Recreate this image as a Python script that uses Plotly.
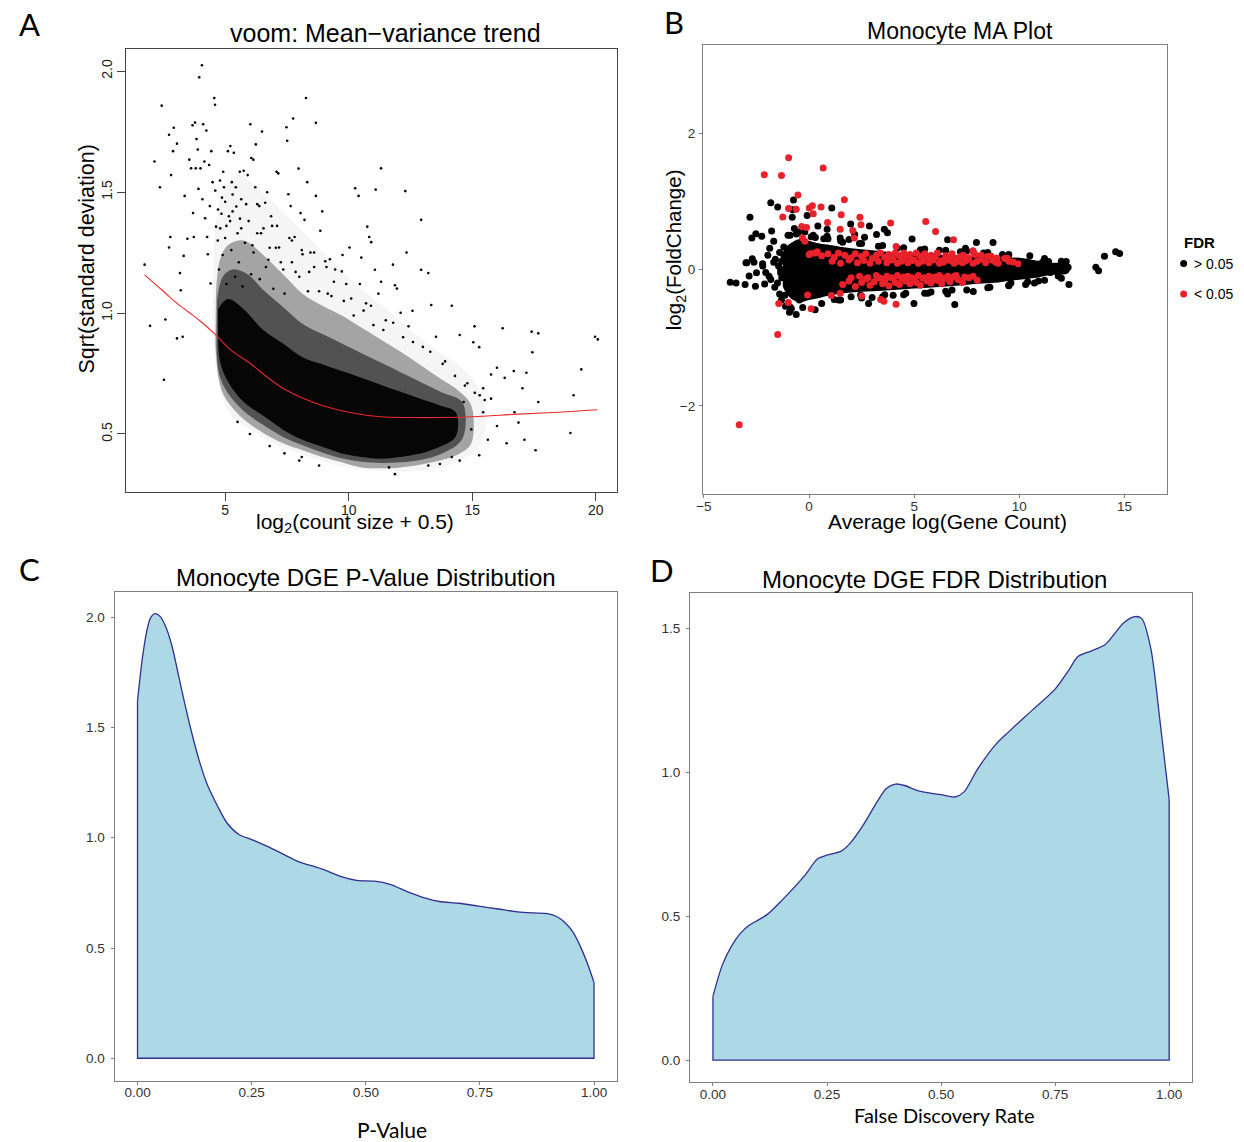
import plotly.graph_objects as go

W, H = 1244, 1142
FONT = "Liberation Sans, Arial, Helvetica, sans-serif"
MYR = "Lato, Open Sans, sans-serif"

# ---------------- Panel A : voom mean-variance trend ----------------
a_trend_x = [1.74, 2.5, 3.0, 3.5, 4.0, 4.63, 5.2, 6.06, 6.7, 7.34, 8.1, 8.93, 10.0, 11.3, 12.5, 13.7, 15.0, 16.87, 18.5, 20.05]
a_trend_y = [1.158, 1.09, 1.044, 1.005, 0.966, 0.909, 0.85, 0.788, 0.735, 0.689, 0.65, 0.618, 0.59, 0.571, 0.568, 0.568, 0.571, 0.582, 0.59, 0.60]

# saturated (near-solid) part of the point cloud
a_core_x = [4.71, 5.11, 5.75, 6.54, 7.34, 8.13, 8.93, 9.72, 10.51, 11.31, 12.1, 12.9, 13.69, 14.33,
            14.33, 13.69, 12.9, 12.1, 11.31, 10.51, 9.72, 8.93, 8.13, 7.34, 6.54, 5.75, 5.11, 4.79, 4.71]
a_core_y = [1.016, 1.058, 1.016, 0.93, 0.874, 0.817, 0.788, 0.76, 0.732, 0.703, 0.675, 0.646, 0.618, 0.59,
            0.49, 0.447, 0.419, 0.405, 0.398, 0.405, 0.419, 0.447, 0.476, 0.518, 0.575, 0.632, 0.717, 0.80, 0.90]
# dense part just outside the core
a_inner_x = [4.67, 4.9, 5.3, 5.9, 6.6, 7.4, 8.2, 9.0, 9.8, 10.6, 11.4, 12.2, 13.0, 13.8, 14.6,
             14.6, 13.8, 13.0, 12.1, 11.3, 10.5, 9.7, 8.9, 8.1, 7.3, 6.5, 5.75, 5.1, 4.75, 4.65]
a_inner_y = [1.05, 1.15, 1.18, 1.16, 1.09, 1.02, 0.95, 0.91, 0.87, 0.83, 0.79, 0.75, 0.71, 0.67, 0.63,
             0.48, 0.42, 0.395, 0.383, 0.38, 0.385, 0.40, 0.425, 0.455, 0.49, 0.54, 0.595, 0.67, 0.75, 0.88]
# medium-density part of the cloud
a_mid_x = [4.63, 4.79, 5.11, 5.75, 6.54, 7.34, 8.13, 8.93, 9.72, 10.51, 11.31, 12.1, 12.9, 13.69, 14.49, 14.96,
           14.96, 14.49, 13.69, 12.1, 10.51, 9.72, 8.93, 8.13, 7.34, 6.54, 5.75, 5.11, 4.79, 4.60]
a_mid_y = [1.087, 1.22, 1.28, 1.30, 1.24, 1.16, 1.08, 1.03, 0.99, 0.94, 0.89, 0.84, 0.785, 0.73, 0.675, 0.618,
           0.462, 0.419, 0.39, 0.362, 0.362, 0.383, 0.405, 0.433, 0.462, 0.504, 0.561, 0.632, 0.703, 0.874]
# sparse halo of the cloud
a_halo_x = [4.5, 4.6, 4.9, 5.5, 6.5, 7.5, 8.5, 9.5, 10.5, 11.5, 12.5, 13.5, 14.5, 15.2, 15.5,
            15.5, 15.0, 14.0, 12.5, 11.0, 10.0, 9.0, 8.0, 7.0, 6.0, 5.3, 4.9, 4.6]
a_halo_y = [1.0, 1.35, 1.5, 1.57, 1.5, 1.4, 1.3, 1.2, 1.1, 1.02, 0.93, 0.85, 0.78, 0.7, 0.6,
            0.5, 0.42, 0.37, 0.345, 0.35, 0.36, 0.385, 0.42, 0.46, 0.52, 0.57, 0.65, 0.78]
# individual sparse genes
a_pts_x = [1.74, 1.96, 2.14, 2.43, 2.36, 2.52, 2.58, 2.73, 2.73, 2.78, 2.81, 2.89, 2.92, 3.05, 3.05, 3.17,
           3.20, 3.28, 3.32, 3.36, 3.47, 3.55, 3.62, 3.68, 3.70, 3.73, 3.78, 3.81, 3.84, 3.89, 3.92, 3.95,
           4.00, 4.06, 4.08, 4.11, 4.16, 4.19, 4.24, 4.27, 4.30, 4.35, 4.38, 4.41, 4.44, 4.49, 4.56, 4.59,
           4.60, 4.63, 4.71, 4.79, 4.87, 4.92, 5.11, 5.21, 5.27, 5.35, 5.43, 5.59, 5.75, 5.91, 6.02, 6.06,
           6.14, 6.22, 6.24, 6.38, 6.49, 6.62, 6.70, 6.86, 7.08, 7.15, 7.18, 7.48, 7.51, 7.56, 7.65, 7.75,
           7.81, 7.97, 8.05, 8.13, 8.21, 8.27, 8.32, 8.45, 8.67, 8.67, 8.93, 9.05, 9.24, 9.40, 9.72, 10.03,
           10.26, 10.40, 10.51, 10.75, 10.83, 10.91, 11.06, 11.09, 11.31, 11.31, 11.79, 11.87, 11.95, 12.10,
           12.29, 12.34, 12.42, 12.58, 12.93, 12.93, 13.22, 13.34, 13.53, 14.17, 14.49, 15.04, 15.09, 15.28,
           15.44, 15.76, 16.00, 16.23, 16.31, 16.39, 16.68, 16.87, 17.03, 17.11, 17.19, 17.40, 17.43, 17.56,
           17.67, 17.67, 18.97, 19.10, 19.41, 19.97, 20.08, 14.49, 14.17, 15.28, 13.22, 11.87, 11.63, 8.10,
           13.69, 15.63, 16.00, 16.71, 15.44, 14.96, 14.65, 15.76, 5.05, 5.3, 5.6, 6.3, 6.9, 7.7, 8.6,
           9.1, 9.9, 10.7, 11.5, 12.2, 13.0, 13.9, 14.8, 15.3, 5.5, 6.0, 6.8, 7.4, 8.0, 8.8,
           4.7, 4.85, 5.0, 5.2, 5.45, 5.65, 5.85, 6.1, 6.45, 6.75, 7.05, 7.35, 7.7, 8.0, 8.4, 8.8, 9.3, 9.8,
           10.2, 10.6, 11.0, 11.4, 11.8, 12.6, 13.3, 13.8, 14.3, 14.7, 15.1, 15.5,
           4.75, 4.8, 4.9, 4.95, 5.0, 5.05, 5.15, 5.25, 5.3, 5.4, 5.5, 5.55, 5.65, 5.7, 5.8, 5.95, 6.05, 6.15,
           6.3, 6.4, 6.55, 6.65, 6.8, 6.95, 7.1, 7.25, 7.4, 7.6, 7.85, 8.1, 8.35, 8.6, 8.85, 9.15, 9.45, 9.75,
           10.1, 10.45, 10.9, 11.2]
a_pts_y = [1.20, 0.947, 1.626, 1.857, 1.52, 0.724, 0.973, 1.737, 1.271, 1.314, 1.57, 1.669, 1.766, 1.70, 0.895, 1.165,
           1.094, 0.902, 1.236, 1.484, 1.307, 1.634, 1.598, 1.776, 1.413, 1.314, 1.787, 1.598, 1.719, 1.676, 1.513, 1.974,
           1.598, 2.024, 1.47, 1.78, 1.626, 1.392, 1.754, 1.314, 1.243, 1.612, 1.442, 1.122, 1.669, 1.541, 1.889, 1.861,
           1.506, 1.357, 1.428, 1.548, 1.477, 1.584, 1.669, 1.69, 1.541, 1.662, 1.52, 1.584, 1.588, 1.57, 1.78, 1.641,
           1.634, 1.52, 1.697, 1.442, 1.75, 1.456, 1.499, 1.40, 1.584, 1.577, 1.271, 1.768, 1.712, 1.491, 1.442, 1.804,
           1.314, 1.597, 1.413, 1.243, 1.385, 1.889, 1.541, 1.25, 1.786, 1.484, 1.42, 1.214, 1.222, 1.129, 1.172, 1.271,
           1.516, 1.484, 1.229, 1.357, 1.314, 1.293, 1.179, 1.51, 1.598, 1.129, 1.20, 1.115, 1.101, 1.001,
           1.504, 1.25, 0.945, 1.009, 1.385, 1.179, 1.165, 1.033, 0.902, 1.03, 0.909, 0.879, 0.945, 0.859,
           0.689, 0.746, 0.774, 0.937, 0.732, 0.462, 0.76, 0.547, 0.689, 0.476, 0.753, 0.923, 0.838, 0.433,
           0.916, 0.632, 0.504, 0.66, 0.767, 0.902, 0.891, 0.39, 0.405, 0.412, 0.37, 0.334, 0.362, 0.405,
           0.376, 0.476, 0.533, 0.59, 0.59, 0.519, 0.632, 0.646, 1.36, 1.42, 1.39, 1.33, 1.36, 1.30, 1.25,
           1.19, 1.12, 1.04, 0.97, 0.90, 0.86, 0.80, 0.71, 0.66, 0.55, 0.50, 0.45, 0.42, 0.39, 0.37,
           1.30, 1.41, 1.46, 1.38, 1.44, 1.35, 1.45, 1.28, 1.33, 1.22, 1.27, 1.18, 1.21, 1.15, 1.17, 1.09, 1.07, 1.05,
           0.99, 1.01, 0.95, 0.93, 0.96, 0.88, 0.84, 0.79, 0.74, 0.70, 0.67, 0.64,
           1.18, 1.35, 1.24, 1.52, 1.31, 1.12, 1.40, 1.26, 1.49, 1.15, 1.33, 1.21, 1.47, 1.11, 1.29, 1.38, 1.16, 1.25,
           1.45, 1.14, 1.35, 1.19, 1.27, 1.10, 1.36, 1.21, 1.08, 1.31, 1.17, 1.26, 1.09, 1.19, 1.34, 1.08, 1.18, 1.24,
           1.06, 1.12, 1.03, 1.08]

# ---------------- Panel B : MA plot ----------------
b_mass_x = [-1.25, -1.1, -0.8, -0.4, 0.0, 0.5, 1.0, 2.0, 3.0, 4.0, 5.0, 6.0, 7.0, 8.0, 9.0, 10.0, 10.8, 11.5, 12.3, 12.4,
            12.3, 11.5, 10.8, 10.0, 9.0, 8.0, 7.0, 6.0, 5.0, 4.0, 3.0, 2.0, 1.0, 0.5, 0.0, -0.4, -0.8, -1.1, -1.25]
b_mass_y = [0.25, 0.33, 0.40, 0.45, 0.42, 0.38, 0.36, 0.31, 0.28, 0.25, 0.23, 0.22, 0.21, 0.19, 0.18, 0.17, 0.13, 0.10, 0.08, 0.0,
            -0.06, -0.08, -0.12, -0.15, -0.19, -0.21, -0.24, -0.26, -0.28, -0.30, -0.32, -0.34, -0.38, -0.42, -0.45, -0.48, -0.44, -0.34, -0.25]

b_black_x = [-3.75, -3.47, -2.81, -2.72, -2.53, -2.25, -2.96, -2.70, -2.62, -2.85, -3.04, -2.55, -2.21, -2.06, -1.78,
             -1.82, -1.49, -1.68, -1.87, -1.96, -1.68, -2.11, -1.82, -1.63, -1.40, -1.31, -1.12, -0.93, -0.61, -0.84,
             -0.46, 0.29, -0.74, -0.80, -0.78, -0.09, 0.42, 1.08, 0.86, 0.86, 1.48, 1.98, 2.17, 2.64, 2.87, 3.21,
             3.58, 3.73, 4.90, 6.59, 7.44, 7.96, 8.75, 2.83, 4.99, 6.93, 1.42, 2.45, 5.65, 6.59, 7.81, 9.98, 10.35,
             10.82, 10.91, 11.10, 11.39, 11.48, 11.72, 11.85, 12.23, 12.32, 12.36, 10.72, 10.35, 13.64, 13.77, 14.05,
             14.58, 14.77, -3.0, -2.5, -2.2, -1.9, -1.6, -1.5, -1.4, -1.35, -1.2, -1.15, -1.0, -0.6, -0.2, 0.3,
             0.9, 1.6, 2.4, 3.3, 4.2, 5.3, 6.2, 7.2, 8.3, 9.2, 9.6, 1.2, 2.0, 3.6, 4.6, 5.8, 6.8, 8.6, 9.5, 10.4,
             -0.9, -0.5, 0.2, 0.7, 1.5, 2.5, 3.5, 4.5, 5.5, 6.5, 7.5, 8.5, 9.5, 10.5, 11.2, 12.0,
             -0.9, -0.3, 0.6, 1.5, 2.5, 3.5, 4.5, 5.5, 6.5, 7.5, 8.5, 9.5, 10.3, 11.2, 12.0,
             -1.3, -1.35, -1.3, -1.45, -1.2, -0.7, 0.1, 1.9, 3.0, 4.0]
b_black_y = [-0.187, -0.197, 0.766, 0.462, 0.522, 0.487, 0.097, 0.158, 0.107, -0.095, -0.222, -0.247, 0.082, -0.044, 0.563,
             0.978, 0.918, 0.412, 0.31, 0.209, 0.107, -0.212, -0.146, -0.262, -0.359, -0.45, -0.541, -0.627, -0.662, -0.577,
             -0.45, -0.591, 1.019, 0.766, 0.876, 0.791, 0.638, 0.903, 0.588, 0.487, 0.462, 0.665, 0.512, 0.472, 0.638, 0.512,
             0.588, 0.538, 0.447, 0.437, 0.31, 0.396, 0.396, -0.50, -0.50, -0.516, -0.45, -0.374, -0.349, -0.359, -0.323, 0.056, 0.107,
             0.056, -0.171, 0.107, 0.117, -0.044, 0.031, -0.095, 0.117, 0.031, -0.222, -0.197, -0.095, 0.031, -0.019, 0.193,
             0.259, 0.234, 0.1, -0.05, 0.05, -0.1, 0.15, -0.2, 0.25, -0.05, 0.33, -0.38, 0.5, 0.52, 0.55, 0.47,
             0.45, 0.40, 0.38, 0.34, 0.31, 0.29, 0.28, 0.26, 0.24, 0.22, -0.20, -0.44, -0.40, -0.37, -0.35, -0.33, -0.30, -0.26, -0.23, -0.18,
             0.50, 0.55, 0.50, 0.45, 0.42, 0.38, 0.35, 0.32, 0.30, 0.28, 0.27, 0.25, 0.22, 0.20, 0.16, 0.12,
             -0.55, -0.56, -0.50, -0.45, -0.42, -0.40, -0.37, -0.35, -0.32, -0.30, -0.27, -0.24, -0.22, -0.16, -0.13,
             0.12, 0.0, -0.12, 0.05, 0.2, 0.6, 0.48, 0.44, -0.41, -0.38]

b_red_x = [-0.97, -2.13, -1.31, 0.67, -0.53, 1.68, -0.97, -0.61, 0.01, 0.16, 0.57, -1.25, 0.20, 0.88, 1.53, 2.42, 2.47,
           3.88, 5.55, 6.02, -0.35, -0.12, 1.48, 2.08, 2.15, -0.31, -0.20, 6.87, 7.80, 4.14, 0.09, 0.39, -1.44, -0.99,
           0.10, -0.07, -1.49, -3.32, 1.48, 2.51, 1.06, 3.41, 3.56, 4.14, 9.94, 6.87, 7.34, 7.81, 8.19, 8.66, 8.94, 8.88, 9.41,
           0.0, 0.3, 0.6, 0.9, 1.2, 1.4, 1.7, 2.0, 2.2, 2.5, 2.7, 3.0, 3.2, 3.4, 3.6, 3.8, 4.0, 4.1, 4.3, 4.5, 4.6, 4.8,
           5.0, 5.1, 5.3, 5.5, 5.6, 5.8, 6.0, 6.1, 6.3, 6.5, 6.6, 6.8, 7.0, 7.2, 7.4, 7.6, 7.9, 8.2, 8.5, 8.9, 9.3, 9.7,
           1.6, 1.9, 2.2, 2.5, 2.7, 2.9, 3.1, 3.3, 3.5, 3.6, 3.8, 4.0, 4.1, 4.3, 4.5, 4.6, 4.8, 5.0, 5.1, 5.3, 5.5, 5.6,
           5.8, 6.0, 6.1, 6.3, 6.5, 6.7, 6.9, 7.1, 7.3, 7.6, 8.0,
           1.1, 1.5, 1.9, 2.3, 2.6, 2.9, 3.3, 3.7, 3.9, 4.2, 4.4, 4.7, 4.9, 5.2, 5.4, 5.7, 5.9, 6.2, 6.4, 6.7, 6.9, 7.1,
           7.3, 7.5, 7.8, 8.0, 8.4, 8.7, 9.0, 9.5,
           2.0, 2.4, 2.8, 3.2, 3.4, 3.7, 3.9, 4.2, 4.4, 4.7, 4.9, 5.2, 5.4, 5.7, 5.9, 6.2, 6.4, 6.6, 6.8, 7.0, 7.4, 7.8]
b_red_y = [1.637, 1.388, 1.378, 1.49, 1.094, 1.024, 0.893, 0.882, 0.903, 0.933, 0.918, 0.771, 0.816, 0.69, 0.801, 0.766, 0.654,
           0.68, 0.705, 0.557, 0.629, 0.614, 0.588, 0.573, 0.462, 0.462, 0.412, 0.437, 0.274, 0.335, 0.234, 0.259, -0.50, -0.485,
           -0.577, -0.374, -0.956, -2.278, -0.349, -0.39, -0.384, -0.44, -0.465, -0.51, 0.082, 0.168, 0.209, 0.259, 0.209, 0.193, 0.168, 0.107, 0.168,
           0.22, 0.24, 0.20, 0.23, 0.18, 0.24, 0.21, 0.17, 0.23, 0.19, 0.23, 0.16, 0.21, 0.24, 0.18, 0.22, 0.15, 0.24, 0.20, 0.24, 0.17, 0.22,
           0.14, 0.24, 0.19, 0.23, 0.15, 0.21, 0.18, 0.24, 0.13, 0.20, 0.16, 0.23, 0.14, 0.19, 0.12, 0.17, 0.22, 0.15, 0.19, 0.13, 0.16, 0.11,
           -0.22, -0.17, -0.25, -0.19, -0.14, -0.23, -0.18, -0.12, -0.21, -0.16, -0.24, -0.13, -0.19, -0.22, -0.11, -0.17, -0.21, -0.14, -0.19, -0.23, -0.12, -0.17,
           -0.20, -0.11, -0.16, -0.21, -0.13, -0.18, -0.10, -0.15, -0.19, -0.12, -0.16,
           0.12, 0.09, 0.14, 0.10, 0.13, 0.09, 0.12, 0.10, 0.14, 0.09, 0.12, 0.10, 0.13, 0.09, 0.12, 0.10, 0.14, 0.09, 0.11, 0.13, 0.09, 0.12,
           0.10, 0.14, 0.09, 0.12, 0.10, 0.14, 0.09, 0.12,
           -0.12, -0.10, -0.12, -0.09, -0.13, -0.10, -0.12, -0.09, -0.13, -0.10, -0.12, -0.09, -0.13, -0.10, -0.12, -0.09, -0.13, -0.10, -0.12, -0.09, -0.11, -0.10]

# ---------------- Panel C : P-value density ----------------
c_x = [0.0, 0.011, 0.020, 0.028, 0.038, 0.050, 0.063, 0.076, 0.090, 0.103, 0.119, 0.136, 0.153, 0.175, 0.196,
       0.222, 0.25, 0.282, 0.317, 0.351, 0.403, 0.446, 0.480, 0.519, 0.553, 0.592, 0.627, 0.661, 0.704, 0.747,
       0.790, 0.833, 0.867, 0.898, 0.919, 0.936, 0.954, 0.971, 0.988, 1.0]
c_y = [1.622, 1.82, 1.934, 1.995, 2.016, 2.003, 1.951, 1.865, 1.735, 1.613, 1.474, 1.344, 1.24, 1.145, 1.067,
       1.015, 0.992, 0.963, 0.928, 0.893, 0.859, 0.824, 0.807, 0.803, 0.789, 0.755, 0.729, 0.711, 0.703, 0.69,
       0.677, 0.664, 0.659, 0.656, 0.642, 0.616, 0.572, 0.503, 0.416, 0.343]

# ---------------- Panel D : FDR density ----------------
d_x = [0.0, 0.02, 0.04, 0.06, 0.08, 0.10, 0.12, 0.15, 0.20, 0.23, 0.25, 0.28, 0.30, 0.33, 0.36, 0.38, 0.40, 0.42,
       0.45, 0.50, 0.53, 0.55, 0.58, 0.62, 0.65, 0.70, 0.75, 0.78, 0.80, 0.83, 0.86, 0.88, 0.90, 0.925, 0.94,
       0.96, 0.98, 1.0]
d_y = [0.221, 0.328, 0.394, 0.44, 0.469, 0.487, 0.507, 0.553, 0.639, 0.70, 0.712, 0.725, 0.752, 0.818, 0.898, 0.944, 0.959, 0.954,
       0.935, 0.922, 0.914, 0.931, 1.011, 1.097, 1.143, 1.216, 1.289, 1.355, 1.402, 1.422, 1.444, 1.481, 1.519, 1.541, 1.534,
       1.428, 1.176, 0.905]

fig = go.Figure()

# Panel A traces
for xs, ys, a in [(a_halo_x, a_halo_y, 0.04), (a_mid_x, a_mid_y, 0.33), (a_inner_x, a_inner_y, 0.5),
                  (a_core_x, a_core_y, 0.92)]:
    fig.add_trace(go.Scatter(x=xs, y=ys, mode="lines", fill="toself", fillcolor=f"rgba(0,0,0,{a})",
                             line=dict(width=0, color="rgba(0,0,0,0)", shape="spline"), hoverinfo="skip",
                             showlegend=False, xaxis="x", yaxis="y"))
fig.add_trace(go.Scatter(x=a_pts_x, y=a_pts_y, mode="markers", marker=dict(size=2.6, color="black"),
                         showlegend=False, xaxis="x", yaxis="y"))
fig.add_trace(go.Scatter(x=a_trend_x, y=a_trend_y, mode="lines", line=dict(color="#E8292B", width=1.1, shape="spline"),
                         showlegend=False, xaxis="x", yaxis="y"))

# Panel B traces
fig.add_trace(go.Scatter(x=b_mass_x, y=b_mass_y, mode="lines", fill="toself", fillcolor="black",
                         line=dict(width=0, color="rgba(0,0,0,0)", shape="spline"), hoverinfo="skip", showlegend=False,
                         xaxis="x2", yaxis="y2"))
fig.add_trace(go.Scatter(x=b_black_x, y=b_black_y, mode="markers", name="> 0.05",
                         marker=dict(size=7, color="black"), showlegend=False, xaxis="x2", yaxis="y2"))
fig.add_trace(go.Scatter(x=b_red_x, y=b_red_y, mode="markers", name="< 0.05",
                         marker=dict(size=7, color="#E8212A"), showlegend=False, xaxis="x2", yaxis="y2"))

# Panel C / D densities
NAVY = "#2E3190"
for xs, ys, ax, ay in [(c_x, c_y, "x3", "y3"), (d_x, d_y, "x4", "y4")]:
    fig.add_trace(go.Scatter(x=xs, y=ys, mode="lines", fill="tozeroy", fillcolor="#ADD8E6",
                             line=dict(color=NAVY, width=1.3, shape="spline", smoothing=0.8),
                             showlegend=False, xaxis=ax, yaxis=ay))
    fig.add_trace(go.Scatter(x=[xs[0], xs[0], xs[-1], xs[-1]], y=[ys[0], 0, 0, ys[-1]], mode="lines",
                             line=dict(color=NAVY, width=1.3), showlegend=False, xaxis=ax, yaxis=ay))

def dom_x(a, b):
    return [a / W, b / W]

def dom_y(top, bottom):
    return [1 - bottom / H, 1 - top / H]

base_tick = dict(showgrid=False, zeroline=False, showline=True, mirror=True, ticks="outside")
gg_line = "#7F7F7F"
gg_font = dict(family=FONT, size=13.5, color="#333333")
a_font = dict(family=FONT, size=14, color="#222")

fig.update_layout(
    width=W, height=H, margin=dict(l=0, r=0, t=0, b=0),
    paper_bgcolor="white", plot_bgcolor="white", showlegend=False,
    xaxis=dict(**base_tick, domain=dom_x(120, 613.3), anchor="y", range=[1.0, 20.85],
               tickvals=[5, 10, 15, 20], ticktext=["5", "10", "15", "20"], ticklabelstandoff=-3,
               linecolor="#444444", linewidth=1, ticklen=8, tickcolor="#444444", tickfont=a_font),
    yaxis=dict(**base_tick, domain=dom_y(49.3, 492.3), anchor="x", range=[0.259, 2.09],
               tickvals=[0.5, 1.0, 1.5, 2.0], ticktext=["0.5", "1.0", "1.5", "2.0"], tickangle=-90,
               linecolor="#444444", linewidth=1, ticklen=8, tickcolor="#444444", tickfont=a_font),
    xaxis2=dict(**base_tick, domain=dom_x(700, 1166.7), anchor="y2", range=[-5.04, 17.03],
                tickvals=[-5, 0, 5, 10, 15], linecolor=gg_line, linewidth=1.2, ticklen=3, tickcolor=gg_line,
                tickfont=gg_font, ticklabelstandoff=-3),
    yaxis2=dict(**base_tick, domain=dom_y(45.2, 493.7), anchor="x2", range=[-3.29, 3.29],
                tickvals=[-2, 0, 2], linecolor=gg_line, linewidth=1.2, ticklen=3, tickcolor=gg_line,
                tickfont=gg_font, ticklabelstandoff=1),
    xaxis3=dict(**base_tick, domain=dom_x(108.3, 613.3), anchor="y3", range=[-0.05, 1.05],
                tickvals=[0, 0.25, 0.5, 0.75, 1.0], ticktext=["0.00", "0.25", "0.50", "0.75", "1.00"],
                linecolor=gg_line, linewidth=1.2, ticklen=3, tickcolor=gg_line, tickfont=gg_font,
                ticklabelstandoff=-4),
    yaxis3=dict(**base_tick, domain=dom_y(591.5, 1080.5), anchor="x3", range=[-0.1008, 2.1168],
                tickvals=[0, 0.5, 1.0, 1.5, 2.0], ticktext=["0.0", "0.5", "1.0", "1.5", "2.0"],
                linecolor=gg_line, linewidth=1.2, ticklen=3, tickcolor=gg_line, tickfont=gg_font,
                ticklabelstandoff=3),
    xaxis4=dict(**base_tick, domain=dom_x(687, 1191.7), anchor="y4", range=[-0.05, 1.05],
                tickvals=[0, 0.25, 0.5, 0.75, 1.0], ticktext=["0.00", "0.25", "0.50", "0.75", "1.00"],
                linecolor=gg_line, linewidth=1.2, ticklen=3, tickcolor=gg_line, tickfont=gg_font,
                ticklabelstandoff=-4),
    yaxis4=dict(**base_tick, domain=dom_y(592.7, 1082.3), anchor="x4", range=[-0.0774, 1.624],
                tickvals=[0, 0.5, 1.0, 1.5], ticktext=["0.0", "0.5", "1.0", "1.5"],
                linecolor=gg_line, linewidth=1.2, ticklen=3, tickcolor=gg_line, tickfont=gg_font,
                ticklabelstandoff=3),
)

def ann(text, px, py, size, family=FONT, angle=0, color="#000", xanchor="center"):
    fig.add_annotation(text=text, x=px / W, y=1 - py / H, xref="paper", yref="paper",
                       showarrow=False, textangle=angle, xanchor=xanchor, yanchor="middle",
                       font=dict(family=family, size=size, color=color))

# panel letters
ann("A", 23, 24, 31, family=MYR)
ann("B", 671, 22, 31, family=MYR)
ann("C", 23, 569, 31, family=MYR)
ann("D", 659, 570, 31, family=MYR)

# titles
ann("voom: Mean\u2212variance trend", 381, 33, 25)
ann("Monocyte MA Plot", 958, 31, 23)
ann("Monocyte DGE P-Value Distribution", 361, 577, 24)
ann("Monocyte DGE FDR Distribution", 933, 579, 24)

# axis titles
ann("log<sub>2</sub>(count size + 0.5)", 350, 523, 21)
ann("Sqrt(standard deviation)", 80, 259, 21.5, angle=-90)
ann("Average log(Gene Count)", 946, 521, 21)
ann("log<sub>2</sub>(FoldChange)", 672, 250, 20.5, angle=-90)
ann("P-Value", 387, 1129, 21, family=MYR)
ann("False Discovery Rate", 942, 1115, 20, family=MYR)

# legend for panel B
ann("<b>FDR</b>", 1182, 242, 15, xanchor="left")
ann("> 0.05", 1192, 264, 14, xanchor="left")
ann("< 0.05", 1192, 294, 14, xanchor="left")
for cy, col in [(263.5, "black"), (294, "#E8212A")]:
    fig.add_shape(type="circle", xref="paper", yref="paper",
                  x0=(1183.3 - 3.5) / W, x1=(1183.3 + 3.5) / W,
                  y0=1 - (cy + 3.5) / H, y1=1 - (cy - 3.5) / H,
                  fillcolor=col, line=dict(width=0))

fig.write_html("out.html", config={"displayModeBar": False},
               post_script="document.body.style.margin='0px';document.body.style.overflow='hidden';")
